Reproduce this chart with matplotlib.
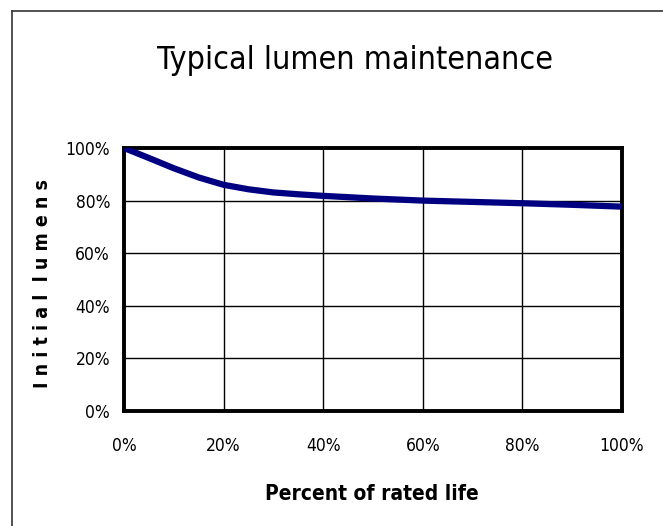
import matplotlib
matplotlib.use("Agg")
import matplotlib.pyplot as plt
from matplotlib.lines import Line2D

life_pct = [0, 5, 10, 15, 20, 25, 30, 35, 40, 50, 60, 70, 80, 90, 100]
lumens_pct = [100, 96.2, 92.3, 88.8, 86.0, 84.3, 83.1, 82.4, 81.8, 80.8, 80.0, 79.5, 79.0, 78.4, 77.7]
x_ticks = [0, 20, 40, 60, 80, 100]
y_ticks = [0, 20, 40, 60, 80, 100]
x_labels = ["0%", "20%", "40%", "60%", "80%", "100%"]
y_labels = ["0%", "20%", "40%", "60%", "80%", "100%"]

fam = ["DejaVu Sans", "Liberation Sans"]
W, H = 663, 526
fig = plt.figure(figsize=(W / 100, H / 100), dpi=100)

fig.add_artist(Line2D([12 / W, 12 / W], [0, 1 - 11 / H], color="#333333", lw=1.2, transform=fig.transFigure))
fig.add_artist(Line2D([12 / W, 1], [1 - 11 / H, 1 - 11 / H], color="#333333", lw=1.2, transform=fig.transFigure))

ax = fig.add_axes([124 / W, 1 - 411 / H, (622 - 124) / W, (411 - 148) / H])
ax.plot(life_pct, lumens_pct, color="#000080", lw=4.5, solid_capstyle="round", zorder=3)
ax.set_xlim(0, 100)
ax.set_ylim(0, 100)
ax.set_xticks(x_ticks)
ax.set_yticks(y_ticks)
ax.set_xticklabels(x_labels, fontfamily=fam, fontsize=12.5, fontstretch="condensed")
ax.set_yticklabels(y_labels, fontfamily=fam, fontsize=12.5, fontstretch="condensed")
ax.tick_params(axis="y", length=0, pad=10)
ax.tick_params(axis="x", length=0, pad=19)
ax.grid(True, color="black", lw=1)
for s in ax.spines.values():
    s.set_linewidth(2.8)
    s.set_color("black")

fig.text(355 / W, 1 - 60 / H, "Typical lumen maintenance", ha="center", va="center",
         fontsize=23, fontfamily=fam, fontstretch="condensed")
fig.text(372 / W, 1 - 494 / H, "Percent of rated life", ha="center", va="center",
         fontsize=15, fontweight="bold", fontfamily=fam, fontstretch="condensed")
fig.text(43 / W, 1 - 283 / H, "I n i t i a l  l u m e n s", ha="center", va="center",
         rotation=90, fontsize=14, fontweight="bold", fontfamily=fam, fontstretch="condensed")

fig.savefig("out.png", dpi=100)
